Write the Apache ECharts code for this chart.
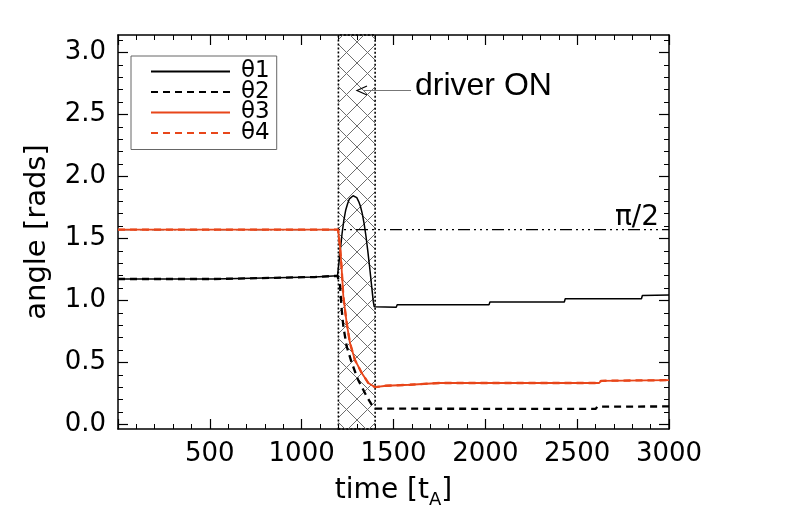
<!DOCTYPE html>
<html>
<head>
<meta charset="utf-8">
<script src="https://cdn.jsdelivr.net/npm/echarts@6/dist/echarts.min.js"></script>
<style>html,body{margin:0;padding:0;background:#fff}#c{width:786px;height:524px}</style>
</head>
<body>
<div id="c"></div>
<script>
// ---------- data ----------
const legendNames = ['θ1', 'θ2', 'θ3', 'θ4'];
const xTickValues = [0, 500, 1000, 1500, 2000, 2500, 3000];
const yMajorTicks = [0.0, 0.5, 1.0, 1.5, 2.0, 2.5, 3.0];
const halfPi = Math.PI / 2;
const driverWindow = [1200, 1400];

const time1 = [0, 517, 520, 1070, 1075, 1195, 1200, 1210, 1220, 1230, 1240, 1250, 1260, 1270, 1280, 1290, 1300, 1310, 1320, 1330, 1340, 1350, 1360, 1370, 1380, 1390, 1395, 1400, 1515, 1520, 2020, 2025, 2430, 2435, 2850, 2855, 3000];
const theta1 = [1.173, 1.173, 1.189, 1.189, 1.199, 1.199, 1.20, 1.40, 1.54, 1.65, 1.73, 1.78, 1.82, 1.835, 1.845, 1.84, 1.83, 1.80, 1.76, 1.70, 1.62, 1.52, 1.40, 1.27, 1.13, 0.99, 0.95, 0.945, 0.945, 0.965, 0.965, 0.987, 0.987, 1.014, 1.014, 1.040, 1.045];

const time2 = [0, 517, 520, 1070, 1075, 1195, 1200, 1209, 1218, 1227, 1245, 1272, 1307, 1354, 1381, 1398, 1400, 2600, 2610, 3000];
const theta2 = [1.173, 1.173, 1.189, 1.189, 1.199, 1.199, 1.19, 1.12, 0.925, 0.79, 0.63, 0.50, 0.36, 0.226, 0.16, 0.127, 0.125, 0.125, 0.143, 0.145];

const time3 = [0, 1198, 1200, 1209, 1218, 1227, 1245, 1263, 1290, 1327, 1363, 1400, 1460, 1590, 1750, 2620, 2630, 3000];
const theta3 = [1.5708, 1.5708, 1.556, 1.435, 1.25, 1.03, 0.82, 0.656, 0.52, 0.415, 0.334, 0.30, 0.312, 0.32, 0.334, 0.334, 0.352, 0.357];

const time4 = [0, 1198, 1200, 1209, 1218, 1227, 1245, 1263, 1290, 1327, 1363, 1400, 1460, 1590, 1750, 2620, 2630, 3000];
const theta4 = [1.5708, 1.5708, 1.556, 1.435, 1.25, 1.03, 0.82, 0.656, 0.52, 0.415, 0.334, 0.30, 0.312, 0.32, 0.334, 0.334, 0.352, 0.357];

const piLineTime = [0, 3000];

// ---------- helpers ----------
const zip = (t, v) => t.map((x, i) => [x, v[i]]);
const yMin = -0.037, yMax = Math.PI;
const yMinorTicks = [];
for (let i = 0; i <= 31; i++) yMinorTicks.push(i / 10);

const RED = '#e8461a';
const TICK_FONT = 'DejaVu Sans';

// cross hatch pattern
const HS = 21;
const pc = document.createElement('canvas');
pc.width = HS; pc.height = HS;
const g = pc.getContext('2d');
g.strokeStyle = '#6e6e6e'; g.lineWidth = 1;
g.beginPath(); g.moveTo(0, 0); g.lineTo(HS, HS); g.moveTo(HS, 0); g.lineTo(0, HS); g.stroke();

const axisLineStyle = { color: '#000', width: 1.5 };

function xAx(pos, labels) {
  return {
    type: 'value', position: pos, min: 0, max: 3000, interval: 500,
    axisLine: { show: true, onZero: false, lineStyle: axisLineStyle },
    axisTick: { show: true, inside: true, length: 10, lineStyle: { color: '#000', width: 1.2 } },
    minorTick: { show: true, splitNumber: 5, length: 5, lineStyle: { color: '#000', width: 1 } },
    splitLine: { show: false },
    axisLabel: labels ? {
      show: true, margin: 12, color: '#000', fontSize: 26, fontFamily: TICK_FONT,
      formatter: v => (v === 0 ? '' : String(v))
    } : { show: false },
    name: labels ? 'time [t{sub|A}]' : '',
    nameLocation: 'middle', nameGap: 44,
    nameTextStyle: {
      color: '#000', fontSize: 28, fontFamily: TICK_FONT, lineHeight: 36,
      rich: { sub: { fontSize: 18, fontFamily: TICK_FONT, lineHeight: 36, verticalAlign: 'bottom', color: '#000' } }
    }
  };
}
function yAx(pos, major, labels) {
  const vals = major ? yMajorTicks : yMinorTicks;
  return {
    type: 'value', position: pos, min: yMin, max: yMax,
    axisLine: { show: major, onZero: false, lineStyle: axisLineStyle },
    axisTick: { show: true, inside: true, length: major ? 10 : 5, customValues: vals, lineStyle: { color: '#000', width: major ? 1.2 : 1 } },
    splitLine: { show: false },
    axisLabel: labels ? {
      show: true, margin: 12, color: '#000', fontSize: 26, fontFamily: TICK_FONT,
      customValues: yMajorTicks, formatter: v => v.toFixed(1)
    } : { show: false, customValues: vals },
    name: labels ? 'angle [rads]' : '',
    nameLocation: 'middle', nameGap: 66, nameRotate: 90,
    nameTextStyle: { color: '#000', fontSize: 29, fontFamily: TICK_FONT }
  };
}

const chart = echarts.init(document.getElementById('c'), null, { renderer: 'canvas' });
chart.setOption({
  animation: false,
  backgroundColor: '#fff',
  grid: { left: 118, right: 117, top: 35, bottom: 95, containLabel: false },
  xAxis: [xAx('bottom', true), xAx('top', false)],
  yAxis: [yAx('left', true, true), yAx('left', false, false), yAx('right', true, false), yAx('right', false, false)],
  legend: {
    data: legendNames, orient: 'vertical', left: 131, top: 56,
    padding: [4, 7, 5, 19], itemWidth: 79, itemHeight: 12, itemGap: -2.5,
    borderColor: '#666', borderWidth: 1, backgroundColor: '#fff',
    itemStyle: { opacity: 0, borderWidth: 0 },
    textStyle: { color: '#000', fontSize: 23, fontFamily: TICK_FONT, lineHeight: 19.7, padding: [0, 0, 0, 6] }
  },
  series: [
    {
      name: 'pi2', type: 'line', symbol: 'none', silent: true, z: 1,
      data: zip(piLineTime, [halfPi, halfPi]),
      lineStyle: { color: '#000', width: 1.3, type: [12, 4, 2, 4, 2, 4, 2, 4] },
      markArea: {
        silent: true,
        itemStyle: { color: { image: pc, repeat: 'repeat' }, borderColor: '#000', borderWidth: 1.6, borderType: [2, 2] },
        data: [[{ xAxis: driverWindow[0] }, { xAxis: driverWindow[1] }]]
      }
    },
    { name: 'θ1', type: 'line', symbol: 'none', z: 3, data: zip(time1, theta1), color: '#000', lineStyle: { color: '#000', width: 1.5 } },
    { name: 'θ2', type: 'line', symbol: 'none', z: 3, data: zip(time2, theta2), color: '#000', lineStyle: { color: '#000', width: 2.3, type: [7, 5] } },
    { name: 'θ3', type: 'line', symbol: 'none', z: 4, data: zip(time3, theta3), color: RED, lineStyle: { color: RED, width: 1.8 } },
    { name: 'θ4', type: 'line', symbol: 'none', z: 5, data: zip(time4, theta4), color: RED, lineStyle: { color: RED, width: 2.3, type: [7, 5] } }
  ],
  graphic: [
    { type: 'line', z: 20, shape: { x1: 363, y1: 90.5, x2: 411, y2: 90.5 }, style: { stroke: '#777', lineWidth: 1 } },
    { type: 'polyline', z: 20, shape: { points: [[367, 86], [357, 90.5], [367, 95]] }, style: { stroke: '#000', lineWidth: 1.2, fill: null } },
    { type: 'text', z: 20, x: 415, y: 86, style: { text: 'driver ON', font: '32px "Liberation Sans"', fill: '#000', verticalAlign: 'middle', align: 'left' } },
    { type: 'text', z: 20, x: 659, y: 218, style: { text: 'π/2', font: '28px "DejaVu Sans"', fill: '#000', verticalAlign: 'middle', align: 'right' } }
  ]
});
</script>
</body>
</html>
